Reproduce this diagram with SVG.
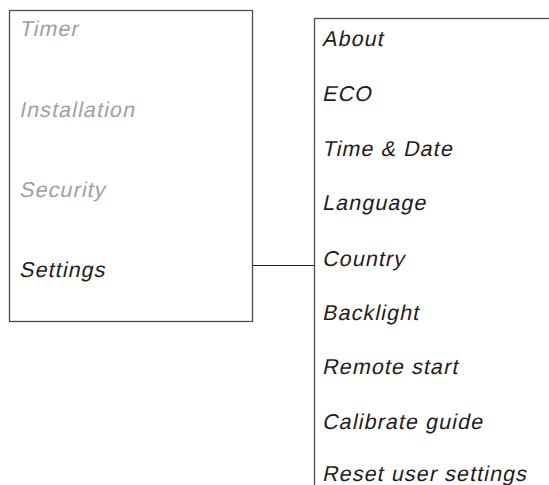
<svg xmlns="http://www.w3.org/2000/svg" width="549" height="485" viewBox="0 0 549 485">
<style>
.box{fill:#fff;stroke:#4d4d4d;stroke-width:1.3}
.t{font-family:"Liberation Sans",Arial,Helvetica,sans-serif;font-style:normal;font-size:21.5px;letter-spacing:1.1px}
.g{fill:#a0a0a0}
.d{fill:#1f1c1d}
.c{stroke:#231f20;stroke-width:1.2;fill:none}
</style>
<rect width="549" height="485" fill="#fff"/>
<g id="main-menu">
<rect class="box" x="9.5" y="10.5" width="243" height="311"/>
<text class="t g" transform="translate(19,36) skewX(-12)">Timer</text>
<text class="t g" transform="translate(19,117) skewX(-12)">Installation</text>
<text class="t g" transform="translate(19,197) skewX(-12)">Security</text>
<text class="t d" transform="translate(19,277) skewX(-12)">Settings</text>
</g>
<g id="settings-menu">
<rect class="box" x="314.5" y="18.5" width="300" height="500"/>
<text class="t d" transform="translate(322,46) skewX(-12)">About</text>
<text class="t d" transform="translate(322,101) skewX(-12)">ECO</text>
<text class="t d" transform="translate(322,155.5) skewX(-12)">Time &amp; Date</text>
<text class="t d" transform="translate(322,210) skewX(-12)">Language</text>
<text class="t d" transform="translate(322,266) skewX(-12)">Country</text>
<text class="t d" transform="translate(322,320) skewX(-12)">Backlight</text>
<text class="t d" transform="translate(322,374) skewX(-12)">Remote start</text>
<text class="t d" transform="translate(322,429) skewX(-12)">Calibrate guide</text>
<text class="t d" transform="translate(322,481) skewX(-12)">Reset user settings</text>
</g>
<g id="connectors">
<line class="c" x1="253" y1="265.5" x2="314" y2="265.5"/>
</g>
</svg>
